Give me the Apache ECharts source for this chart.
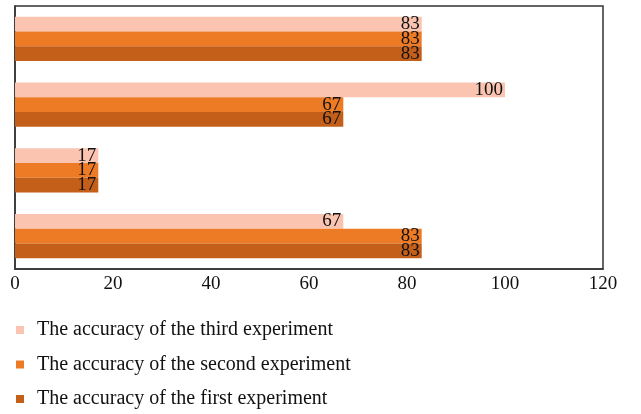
<!DOCTYPE html>
<html>
<head>
<meta charset="utf-8">
<script src="https://cdn.jsdelivr.net/npm/echarts@6/dist/echarts.min.js"></script>
<style>html,body{margin:0;padding:0;background:#fff;}#c{width:641px;height:414px;}</style>
</head>
<body>
<div id="c"></div>
<script>
// categories listed bottom-to-top (ECharts draws first category at bottom)
const categories = ['Group 4', 'Group 3', 'Group 2', 'Group 1'];
const firstExperiment = [83, 17, 67, 83];
const secondExperiment = [83, 17, 67, 83];
const thirdExperiment = [67, 17, 100, 83];
const xTicks = [0, 20, 40, 60, 80, 100, 120];

const names = [
  'The accuracy of the first experiment',
  'The accuracy of the second experiment',
  'The accuracy of the third experiment'
];
const colors = ['#C45F1A', '#ED7B26', '#FAC4B1'];
const serif = '"Liberation Serif", "DejaVu Serif", serif';

const chart = echarts.init(document.getElementById('c'));
const labelCfg = {
  show: true,
  position: 'insideRight',
  distance: 2,
  color: '#111',
  fontFamily: serif,
  fontSize: 19
};
function mk(name, data, color) {
  return {
    name: name,
    type: 'bar',
    data: data,
    itemStyle: { color: color },
    barGap: '0%',
    barCategoryGap: '33%',
    label: labelCfg
  };
}
chart.setOption({
  animation: false,
  grid: {
    left: 15, right: 38, top: 6, bottom: 145,
    show: true, borderColor: '#333', borderWidth: 1.5, backgroundColor: 'transparent'
  },
  xAxis: {
    type: 'value',
    min: xTicks[0],
    max: xTicks[xTicks.length - 1],
    interval: 20,
    axisLine: { show: true, lineStyle: { color: '#333', width: 1.5 } },
    axisTick: { show: false },
    splitLine: { show: false },
    axisLabel: { color: '#111', fontFamily: serif, fontSize: 19, margin: 6 }
  },
  yAxis: {
    type: 'category',
    data: categories,
    axisLine: { show: true, lineStyle: { color: '#333', width: 1.5 } },
    axisTick: { show: false },
    axisLabel: { show: false }
  },
  legend: {
    orient: 'vertical',
    left: 16,
    top: 320,
    padding: 0,
    height: 94,
    itemWidth: 8,
    itemHeight: 8,
    itemGap: 14.5,
    icon: 'rect',
    data: [names[2], names[1], names[0]],
    textStyle: { color: '#111', fontFamily: serif, fontSize: 20, lineHeight: 20, padding: [0, 0, 0, 8] }
  },
  series: [
    mk(names[2], thirdExperiment, colors[2]),
    mk(names[1], secondExperiment, colors[1]),
    mk(names[0], firstExperiment, colors[0])
  ]
});
</script>
</body>
</html>
